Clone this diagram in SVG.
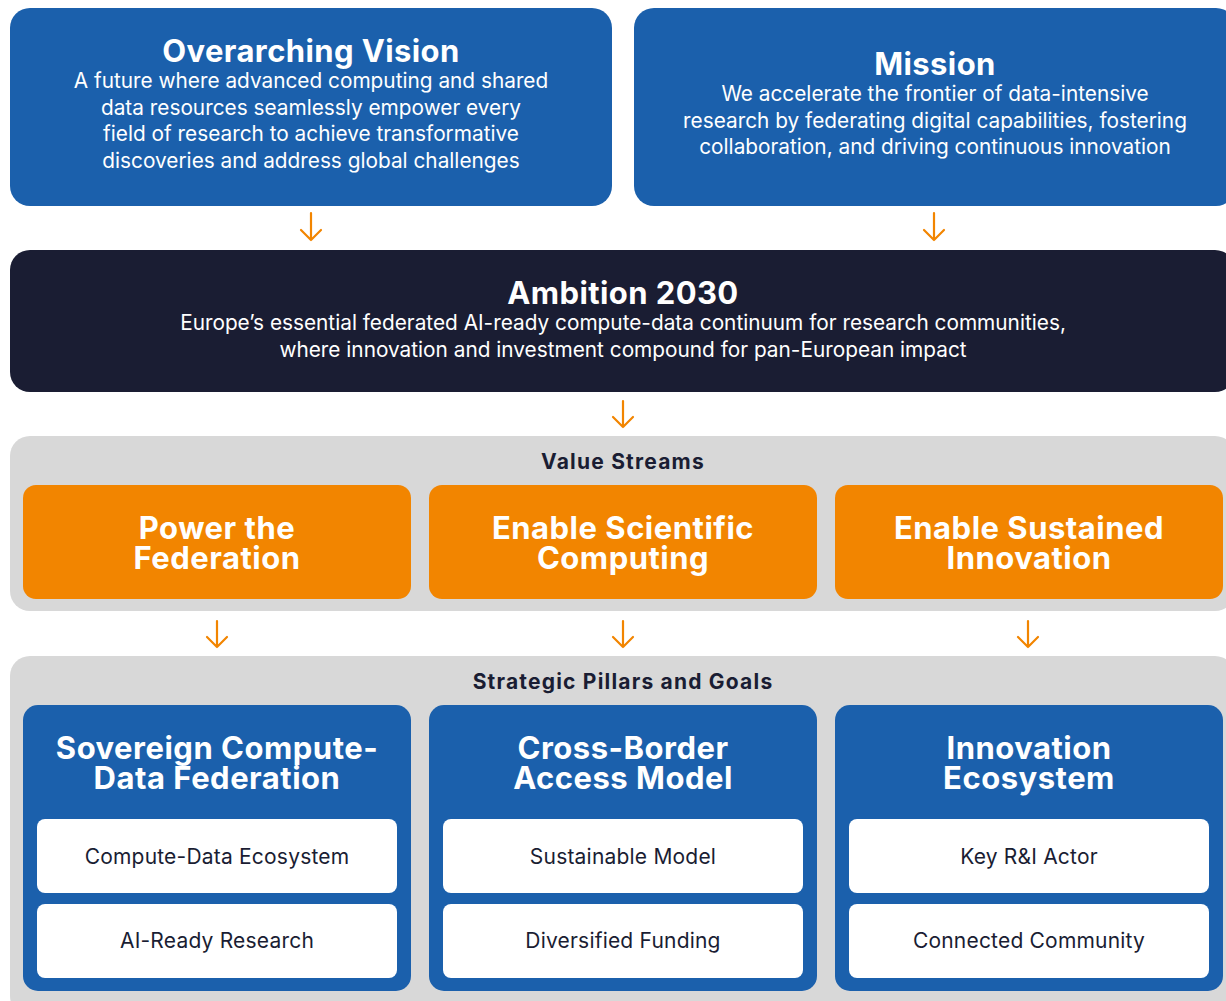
<svg xmlns="http://www.w3.org/2000/svg" width="1226" height="1001" viewBox="0 0 1226 1001">
<style>
.blue{fill:#1b60ac}
.dark{fill:#1a1d33}
.orange{fill:#f28500}
.gray{fill:#d8d8d8}
.card{fill:#ffffff}
text{font-family:Inter,"Liberation Sans",sans-serif;text-anchor:middle}
.h1{font-size:31px;font-weight:700;fill:#ffffff;letter-spacing:0.4px}
.body{font-size:20.8px;fill:#ffffff}
.sec{font-size:21px;font-weight:700;fill:#1a1d33;letter-spacing:1.2px}
.h2{font-size:31px;font-weight:700;fill:#ffffff;letter-spacing:0.5px}
.ct{font-size:21px;fill:#1a1d33;letter-spacing:0.2px}
.arr{stroke:#f28500;stroke-width:2.2;fill:none;stroke-linecap:round;stroke-linejoin:round}
</style>
<rect width="1226" height="1001" fill="#ffffff"/>
<g id="vision">
<rect class="blue" x="10" y="8" width="602" height="198" rx="20"/>
<text class="h1" x="311" y="62">Overarching Vision</text>
<text class="body" x="311" y="88">A future where advanced computing and shared</text>
<text class="body" x="311" y="115">data resources seamlessly empower every</text>
<text class="body" x="311" y="141">field of research to achieve transformative</text>
<text class="body" x="311" y="168">discoveries and address global challenges</text>
</g>
<g id="mission">
<rect class="blue" x="634" y="8" width="602" height="198" rx="20"/>
<text class="h1" x="935" y="75">Mission</text>
<text class="body" x="935" y="101">We accelerate the frontier of data-intensive</text>
<text class="body" x="935" y="128">research by federating digital capabilities, fostering</text>
<text class="body" x="935" y="154">collaboration, and driving continuous innovation</text>
</g>
<g id="ambition">
<rect class="dark" x="10" y="250" width="1225" height="142" rx="20"/>
<text class="h1" x="623" y="304">Ambition 2030</text>
<text class="body" x="623" y="330">Europe’s essential federated AI-ready compute-data continuum for research communities,</text>
<text class="body" x="623" y="357">where innovation and investment compound for pan-European impact</text>
</g>
<g id="value-streams">
<rect class="gray" x="10" y="436" width="1225" height="175" rx="20"/>
<text class="sec" x="623" y="469">Value Streams</text>
</g>
<g id="vs-power">
<rect class="orange" x="23" y="485" width="388" height="114" rx="13"/>
<text class="h2" x="217" y="539">Power the</text>
<text class="h2" x="217" y="569">Federation</text>
</g>
<g id="vs-scientific">
<rect class="orange" x="429" y="485" width="388" height="114" rx="13"/>
<text class="h2" x="623" y="539">Enable Scientific</text>
<text class="h2" x="623" y="569">Computing</text>
</g>
<g id="vs-innovation">
<rect class="orange" x="835" y="485" width="388" height="114" rx="13"/>
<text class="h2" x="1029" y="539">Enable Sustained</text>
<text class="h2" x="1029" y="569">Innovation</text>
</g>
<g id="pillars">
<rect class="gray" x="10" y="656" width="1225" height="360" rx="20"/>
<text class="sec" x="623" y="689">Strategic Pillars and Goals</text>
</g>
<g id="pillar-sovereign">
<rect class="blue" x="23" y="705" width="388" height="286" rx="15"/>
<text class="h2" x="217" y="759">Sovereign Compute-</text>
<text class="h2" x="217" y="789">Data Federation</text>
<rect class="card" x="37" y="819" width="360" height="74" rx="8"/>
<text class="ct" x="217" y="864">Compute-Data Ecosystem</text>
<rect class="card" x="37" y="904" width="360" height="74" rx="8"/>
<text class="ct" x="217" y="948">AI-Ready Research</text>
</g>
<g id="pillar-access">
<rect class="blue" x="429" y="705" width="388" height="286" rx="15"/>
<text class="h2" x="623" y="759">Cross-Border</text>
<text class="h2" x="623" y="789">Access Model</text>
<rect class="card" x="443" y="819" width="360" height="74" rx="8"/>
<text class="ct" x="623" y="864">Sustainable Model</text>
<rect class="card" x="443" y="904" width="360" height="74" rx="8"/>
<text class="ct" x="623" y="948">Diversified Funding</text>
</g>
<g id="pillar-ecosystem">
<rect class="blue" x="835" y="705" width="388" height="286" rx="15"/>
<text class="h2" x="1029" y="759">Innovation</text>
<text class="h2" x="1029" y="789">Ecosystem</text>
<rect class="card" x="849" y="819" width="360" height="74" rx="8"/>
<text class="ct" x="1029" y="864">Key R&amp;I Actor</text>
<rect class="card" x="849" y="904" width="360" height="74" rx="8"/>
<text class="ct" x="1029" y="948">Connected Community</text>
</g>
<g id="connectors">
<path class="arr" d="M311 213V240M301 230L311 240L321 230"/>
<path class="arr" d="M934 213V240M924 230L934 240L944 230"/>
<path class="arr" d="M623 401V427M613 417L623 427L633 417"/>
<path class="arr" d="M217 621V647M207 637L217 647L227 637"/>
<path class="arr" d="M623 621V647M613 637L623 647L633 637"/>
<path class="arr" d="M1028 621V647M1018 637L1028 647L1038 637"/>
</g>
</svg>
